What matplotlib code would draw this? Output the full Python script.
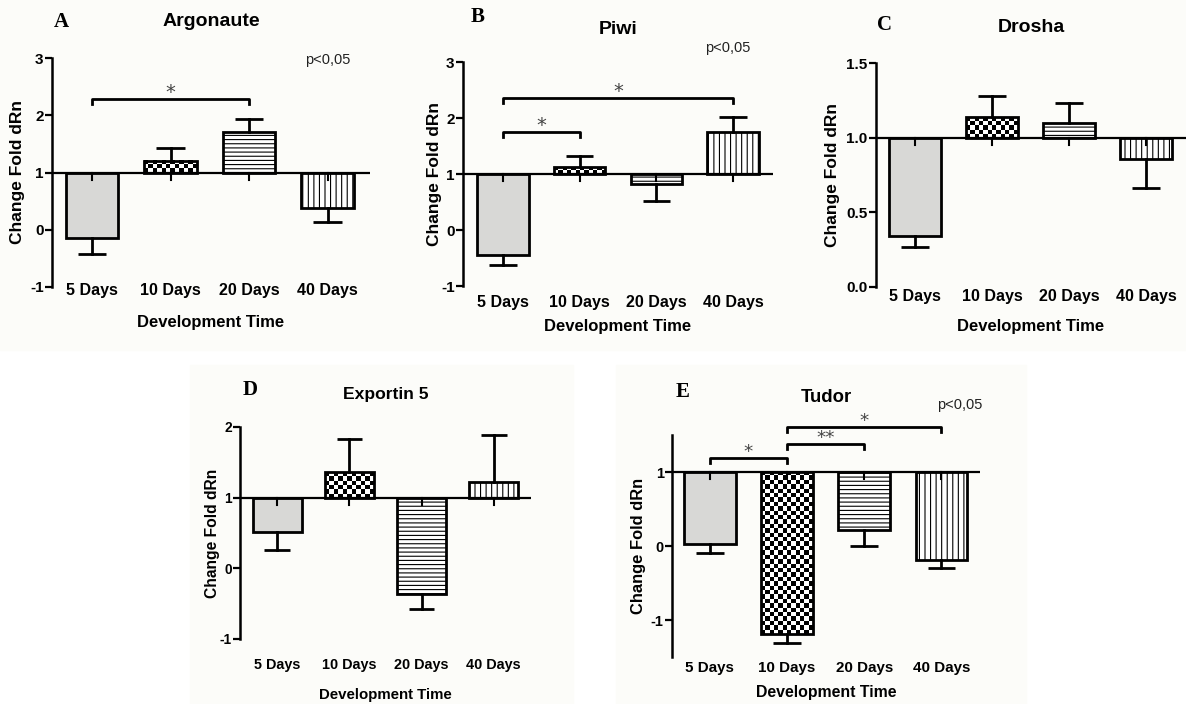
import matplotlib
matplotlib.use('Agg')
import matplotlib.pyplot as plt
import numpy as np
from matplotlib.patches import Rectangle
from matplotlib.ticker import FormatStrFormatter

W, H = 1186, 704

categories = ['5 Days', '10 Days', '20 Days', '40 Days']
fills = ['gray', 'checker', 'hline', 'vline']

# mean fold change and SEM per gene (baseline = 1)
argonaute_mean = [-0.15, 1.20, 1.70, 0.38]
argonaute_sem = [0.27, 0.22, 0.23, 0.25]
piwi_mean = [-0.45, 1.12, 0.82, 1.75]
piwi_sem = [0.18, 0.21, 0.30, 0.27]
drosha_mean = [0.34, 1.14, 1.10, 0.86]
drosha_sem = [0.07, 0.14, 0.13, 0.20]
exportin_mean = [0.51, 1.36, -0.36, 1.22]
exportin_sem = [0.25, 0.47, 0.22, 0.66]
tudor_mean = [0.03, -1.19, 0.22, -0.19]
tudor_sem = [0.12, 0.12, 0.22, 0.11]

# significance brackets: (from, to, height, label)
argonaute_sig = [(0, 2, 2.28, '*')]
piwi_sig = [(0, 1, 1.75, '*'), (0, 3, 2.36, '*')]
tudor_sig = [(0, 1, 1.19, '*'), (1, 2, 1.38, '**'), (1, 3, 1.61, '*')]

SANS = 'Liberation Sans'
SERIF = 'Liberation Serif'


def checker_fill(ax, x0, x1, y0, y1, px_x, px_y, cell=4.4):
    nx = max(1, int(round(abs(x1 - x0) * px_x / cell)))
    ny = max(1, int(round(abs(y1 - y0) * px_y / cell)))
    board = np.indices((ny, nx)).sum(axis=0) % 2
    ax.imshow(board, cmap='gray', vmin=0, vmax=1, extent=(x0, x1, min(y0, y1), max(y0, y1)),
              aspect='auto', interpolation='nearest', zorder=2)


def draw_panel(fig, p):
    left, right, ytop, ybot = p['box']
    ax = fig.add_axes([left / W, 1 - ybot / H, (right - left) / W, (ybot - ytop) / H])
    ax.set_facecolor('none')
    xlim, ylim = p['xlim'], p['ylim']
    px_x = (right - left) / (xlim[1] - xlim[0])
    px_y = (ybot - ytop) / (ylim[1] - ylim[0])
    s = p['scale']
    width = 0.67

    x = np.arange(len(categories))
    for i, (m, e) in enumerate(zip(p['mean'], p['sem'])):
        kind = fills[i]
        if kind == 'gray':
            ax.bar(x[i], m - 1, bottom=1, width=width, color='#d8d8d6', edgecolor='black', linewidth=2.0, zorder=3)
        elif kind == 'checker':
            checker_fill(ax, x[i] - width / 2, x[i] + width / 2, 1, m, px_x, px_y)
            ax.bar(x[i], m - 1, bottom=1, width=width, facecolor='none', edgecolor='black', linewidth=2.0, zorder=3)
        else:
            ax.bar(x[i], m - 1, bottom=1, width=width, color='white', edgecolor='black', linewidth=2.0,
                   hatch='----' if kind == 'hline' else '|||', zorder=3)
        end = m - e if m < 1 else m + e
        ax.plot([x[i], x[i]], [m, end], color='black', lw=2.0, zorder=4)
        ax.plot([x[i] - 0.18, x[i] + 0.18], [end, end], color='black', lw=2.0, zorder=4, solid_capstyle='butt')
        # small tick at the baseline
        ax.plot([x[i], x[i]], [1, 1 - 7 / px_y], color='black', lw=1.5, zorder=4)

    ax.axhline(1, color='black', lw=1.6, zorder=5)

    for (i, j, yb, lab) in p.get('sig', []):
        d = 5 / px_y
        ax.plot([x[i], x[i], x[j], x[j]], [yb - d, yb, yb, yb - d], color='black', lw=2.0,
                clip_on=False, zorder=5)
        ax.annotate(lab, ((x[i] + x[j]) / 2, yb), xytext=(0, -2), textcoords='offset points',
                    ha='center', va='bottom', fontsize=14 * s, color='#444444', family='DejaVu Sans',
                    annotation_clip=False)

    ax.set_xlim(xlim)
    ax.set_ylim(ylim)
    ax.set_yticks(p['yticks'])
    ax.yaxis.set_major_formatter(FormatStrFormatter(p['yfmt']))
    ax.set_xticks([])
    for side in ['top', 'right', 'bottom']:
        ax.spines[side].set_visible(False)
    ax.spines['left'].set_linewidth(1.8)
    ax.tick_params(axis='y', length=5, width=1.6, pad=1, labelsize=11 * s)
    for t in ax.get_yticklabels():
        t.set_fontfamily(SANS)
        t.set_fontweight('bold')

    # category labels
    for i, c in enumerate(categories):
        px = left + (x[i] - xlim[0]) * px_x
        fig.text(px / W, 1 - (ybot + p['lab_off']) / H, c, ha='center', va='center',
                 fontsize=11.5 * s, fontweight='bold', family=SANS)
    cx = (left + right) / 2
    fig.text(cx / W, 1 - (ybot + p['xl_off']) / H, 'Development Time', ha='center', va='center',
             fontsize=12 * s, fontweight='bold', family=SANS)
    fig.text(p['yl_x'] / W, 1 - (ytop + ybot) / 2 / H, 'Change Fold dRn', ha='center', va='center',
             rotation=90, fontsize=12.5 * s, fontweight='bold', family=SANS)
    fig.text(cx / W, 1 - p['title_y'] / H, p['title'], ha='center', va='center',
             fontsize=14 * s, fontweight='bold', family=SANS)
    lx, ly = p['letter_xy']
    fig.text(lx / W, 1 - ly / H, p['letter'], ha='center', va='center',
             fontsize=15, fontweight='bold', family=SERIF)
    if 'p_xy' in p:
        fig.text(p['p_xy'][0] / W, 1 - p['p_xy'][1] / H, 'p<0,05', ha='center', va='center',
                 fontsize=10.5, family=SANS, color='#222222')
    return ax


fig = plt.figure(figsize=(W / 100, H / 100), dpi=100)
bg = '#fcfcf9'
fig.add_artist(Rectangle((0, 1 - 350 / H), 1, 350 / H, transform=fig.transFigure, color=bg, zorder=0))
fig.add_artist(Rectangle((190 / W, 0), 383 / W, 1 - 365 / H, transform=fig.transFigure, color=bg, zorder=0))
fig.add_artist(Rectangle((616 / W, 0), 410 / W, 1 - 365 / H, transform=fig.transFigure, color=bg, zorder=0))

panels = [
    dict(box=(52, 370, 58, 287), xlim=(-0.51, 3.54), ylim=(-1, 3), yticks=[-1, 0, 1, 2, 3], yfmt='%d',
         mean=argonaute_mean, sem=argonaute_sem, sig=argonaute_sig, title='Argonaute', letter='A',
         letter_xy=(61, 22), title_y=22, p_xy=(328, 60), lab_off=4, xl_off=35, yl_x=18, scale=1.0),
    dict(box=(463, 773, 62, 286), xlim=(-0.52, 3.52), ylim=(-1, 3), yticks=[-1, 0, 1, 2, 3], yfmt='%d',
         mean=piwi_mean, sem=piwi_sem, sig=piwi_sig, title='Piwi', letter='B',
         letter_xy=(478, 17), title_y=29, p_xy=(728, 48), lab_off=16, xl_off=40, yl_x=435, scale=1.0),
    dict(box=(876, 1186, 63, 287), xlim=(-0.51, 3.52), ylim=(0, 1.5), yticks=[0, 0.5, 1.0, 1.5], yfmt='%.1f',
         mean=drosha_mean, sem=drosha_sem, title='Drosha', letter='C',
         letter_xy=(885, 25), title_y=28, lab_off=9, xl_off=39, yl_x=833, scale=1.0),
    dict(box=(240, 531, 427, 639), xlim=(-0.52, 3.52), ylim=(-1, 2), yticks=[-1, 0, 1, 2], yfmt='%d',
         mean=exportin_mean, sem=exportin_sem, title='Exportin 5', letter='D',
         letter_xy=(250, 390), title_y=395, lab_off=26, xl_off=56, yl_x=212, scale=0.9),
    dict(box=(672, 980, 435, 657), xlim=(-0.49, 3.5), ylim=(-1.5, 1.5), yticks=[-1, 0, 1], yfmt='%d',
         mean=tudor_mean, sem=tudor_sem, sig=tudor_sig, title='Tudor', letter='E',
         letter_xy=(683, 392), title_y=397, p_xy=(960, 405), lab_off=11, xl_off=36, yl_x=639, scale=0.95),
]

plt.rcParams['hatch.linewidth'] = 0.8
for p in panels:
    draw_panel(fig, p)

fig.savefig('out.png', dpi=100)
